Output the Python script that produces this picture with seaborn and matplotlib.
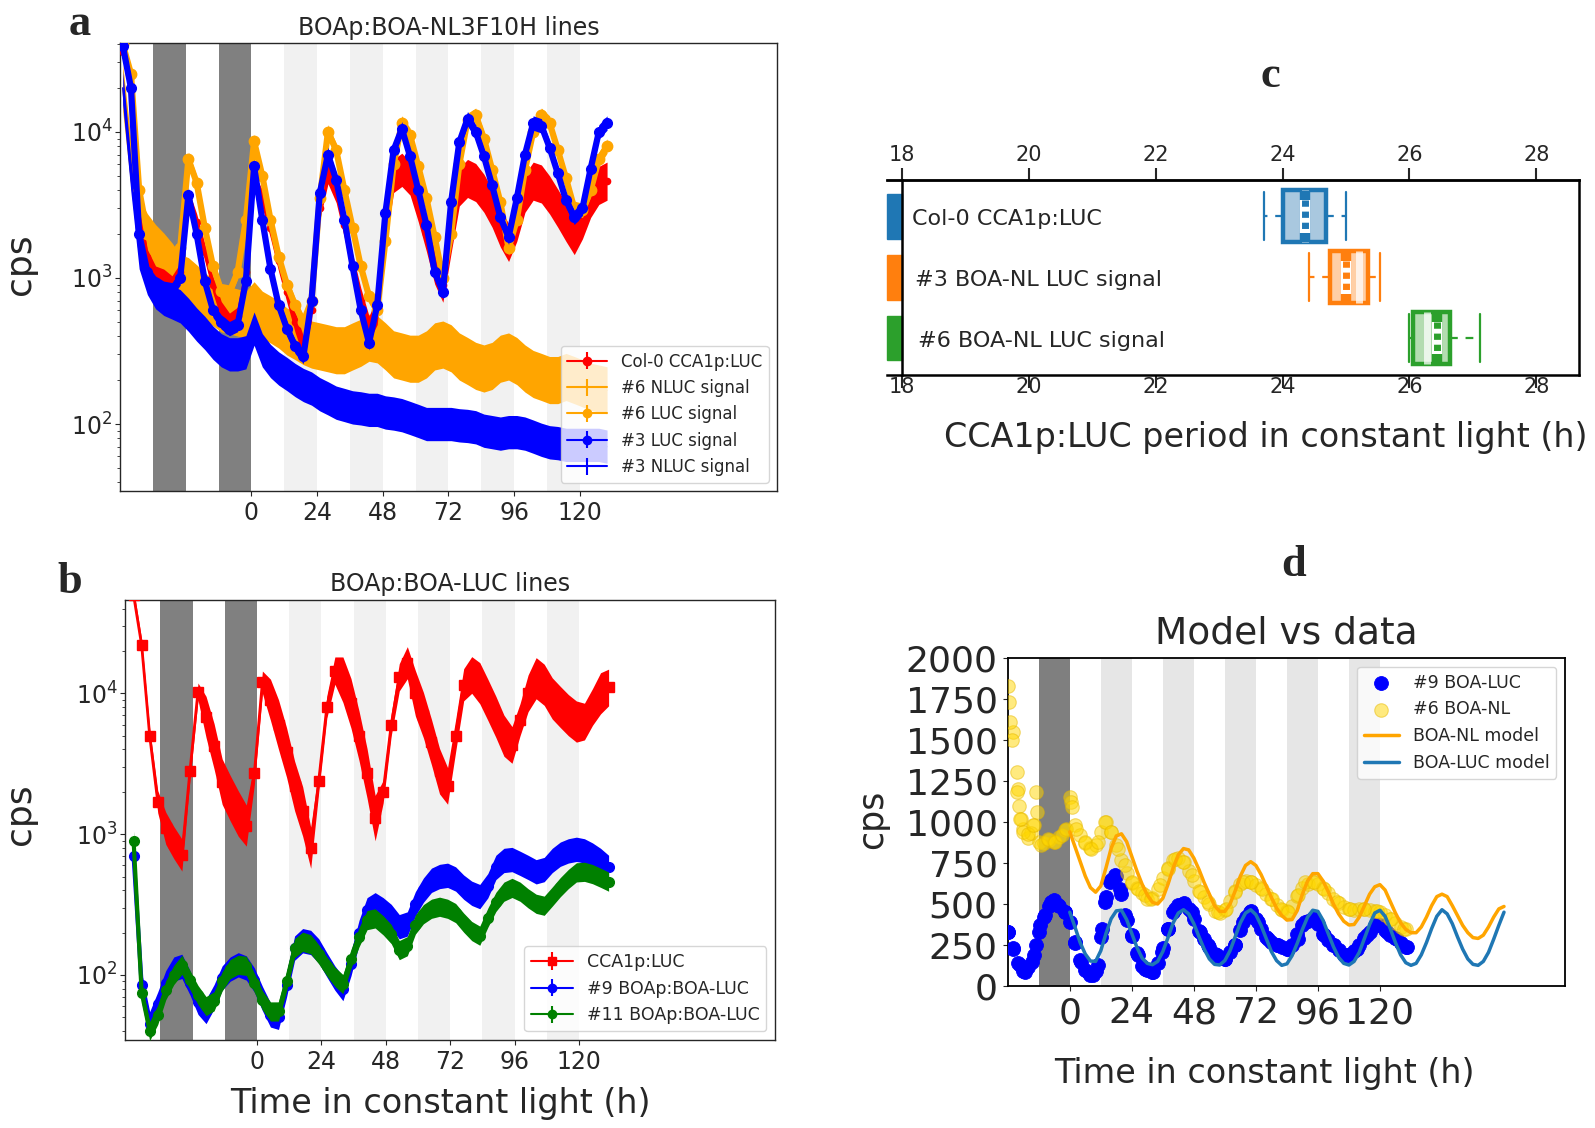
import numpy as np
import pandas as pd
import matplotlib
matplotlib.use("Agg")
import matplotlib.pyplot as plt
import seaborn as sns
from matplotlib.patches import Rectangle

# ======================= DATA =======================
# shading (hours): dark = night, light = subjective night in LL
dark_bands = [(-36, -24), (-12, 0)]
light_bands = [(12, 24), (36, 48), (60, 72), (84, 96), (108, 120)]
d_dark_bands = [(-12, 0)]
x_ticks = [0, 24, 48, 72, 96, 120]

# ---- panel a : BOAp:BOA-NL3F10H lines ----
t_a = [-47, -44, -41, -38, -35, -32, -29, -26, -23, -20,
       -17, -14, -11, -8, -5, -2, 1, 4, 7, 10,
       13, 16, 19, 22, 25, 28, 31, 34, 37, 40,
       43, 46, 49, 52, 55, 58, 61, 64, 67, 70,
       73, 76, 79, 82, 85, 88, 91, 94, 97, 100,
       103, 106, 109, 112, 115, 118, 121, 124, 127, 130]
a_col0 = [35000, 20000, 3000, 1400, 1050, 1000, 900, 1100, 3500, 2400,
          1500, 900, 600, 500, 550, 1100, 4500, 3500, 2200, 1300,
          800, 500, 340, 600, 3000, 5300, 4000, 2300, 1200, 700,
          450, 600, 2200, 5000, 5500, 4800, 3200, 2000, 1200, 900,
          2000, 4200, 4800, 4500, 3800, 3000, 2200, 1750, 2400, 3800,
          4600, 4400, 3700, 3000, 2400, 1950, 2500, 3500, 4300, 4600]
a_col0_err = [1.1, 1.1, 1.12, 1.12, 1.15, 1.15, 1.15, 1.15, 1.15, 1.15,
              1.15, 1.15, 1.15, 1.15, 1.15, 1.15, 1.15, 1.15, 1.18, 1.18,
              1.18, 1.18, 1.18, 1.18, 1.2, 1.2, 1.22, 1.22, 1.22, 1.22,
              1.22, 1.25, 1.28, 1.3, 1.3, 1.3, 1.32, 1.32, 1.32, 1.32,
              1.35, 1.35, 1.35, 1.35, 1.35, 1.35, 1.35, 1.35, 1.35, 1.35,
              1.35, 1.35, 1.35, 1.35, 1.35, 1.35, 1.35, 1.35, 1.35, 1.35]
a_nluc6 = [20000, 6000, 2400, 1900, 1600, 1400, 1200, 1000, 950, 850,
           750, 680, 620, 600, 580, 560, 650, 560, 520, 480,
           430, 400, 370, 350, 340, 330, 320, 320, 340, 360,
           390, 380, 340, 300, 290, 280, 280, 300, 340, 350,
           330, 290, 270, 250, 240, 250, 280, 290, 270, 240,
           220, 210, 200, 200, 210, 200, 190, 180, 175, 170]
a_luc6 = [40000, 25000, 4000, 2000, 1500, 1300, 1250, 1600, 6500, 4500,
          2200, 1200, 820, 800, 1100, 2500, 8600, 5000, 2500, 1400,
          900, 650, 500, 700, 3500, 10000, 7500, 4000, 2200, 1200,
          750, 600, 1800, 6000, 11500, 9500, 5800, 3500, 1900, 1000,
          2000, 6000, 12000, 13000, 9000, 5500, 3300, 1600, 2500, 5500,
          10000, 13000, 11500, 7500, 4800, 3000, 2900, 4000, 6500, 8000]
a_luc3 = [39000, 20000, 2000, 1100, 920, 850, 830, 1000, 3700, 2000,
          950, 600, 500, 450, 480, 950, 5800, 2500, 1150, 650,
          450, 340, 290, 700, 3800, 7000, 4700, 2500, 1200, 600,
          360, 650, 2800, 7500, 10500, 6800, 4000, 2300, 1100, 800,
          3300, 8500, 12300, 10000, 6800, 4300, 2600, 1900, 3500, 7000,
          11500, 11000, 7800, 5200, 3400, 2600, 3000, 5600, 10000, 11500]
a_nluc3 = [20000, 5000, 1500, 1000, 800, 720, 680, 640, 560, 480,
           420, 360, 320, 300, 300, 310, 450, 320, 270, 240,
           220, 200, 185, 175, 160, 150, 140, 135, 130, 128,
           125, 125, 120, 118, 115, 110, 105, 100, 100, 100,
           100, 98, 97, 95, 90, 88, 86, 88, 88, 86,
           82, 78, 75, 74, 72, 72, 72, 72, 72, 70]
a_err_luc = 1.12
a_err_nluc6 = 1.45
a_err_nluc3 = 1.3
a_labels = ["Col-0 CCA1p:LUC", "#6 NLUC signal", "#6 LUC signal",
            "#3 LUC signal", "#3 NLUC signal"]

# ---- panel b : BOAp:BOA-LUC lines ----
t_b = [-46, -43, -40, -37, -34, -31, -28, -25, -22, -19,
       -16, -13, -10, -7, -4, -1, 2, 5, 8, 11,
       14, 17, 20, 23, 26, 29, 32, 35, 38, 41,
       44, 47, 50, 53, 56, 59, 62, 65, 68, 71,
       74, 77, 80, 83, 86, 89, 92, 95, 98, 101,
       104, 107, 110, 113, 116, 119, 122, 125, 128, 131]
b_cca1 = [50000, 22000, 5000, 1700, 1100, 870, 710, 2800, 10300, 6800,
          4200, 2360, 1800, 1400, 1150, 2700, 12000, 9000, 6000, 3800,
          2200, 1450, 800, 2400, 8000, 14500, 12500, 8500, 5000, 2700,
          1300, 2000, 6000, 13000, 16500, 10000, 7000, 4500, 2800, 2200,
          5000, 11500, 13500, 11800, 9000, 6800, 5000, 4300, 6500, 10000,
          12800, 11500, 9200, 8000, 7000, 6300, 6300, 8000, 10000, 11000]
b_cca1_err = [1.1, 1.1, 1.12, 1.2, 1.3, 1.3, 1.3, 1.15, 1.15, 1.4,
              1.45, 1.45, 1.45, 1.45, 1.4, 1.2, 1.2, 1.4, 1.5, 1.5,
              1.5, 1.5, 1.4, 1.2, 1.2, 1.25, 1.45, 1.5, 1.5, 1.5,
              1.45, 1.2, 1.2, 1.25, 1.3, 1.45, 1.45, 1.45, 1.45, 1.35,
              1.3, 1.3, 1.35, 1.4, 1.4, 1.4, 1.4, 1.35, 1.3, 1.35,
              1.4, 1.4, 1.4, 1.4, 1.4, 1.4, 1.35, 1.35, 1.4, 1.35]
b_boa9 = [700, 85, 45, 62, 88, 110, 115, 88, 64, 55,
          70, 95, 110, 118, 112, 92, 68, 52, 50, 85,
          155, 175, 170, 148, 118, 95, 80, 120, 200, 290,
          315, 290, 260, 220, 230, 320, 400, 470, 500, 510,
          480, 420, 380, 360, 430, 580, 650, 660, 620, 580,
          540, 560, 650, 720, 760, 780, 760, 710, 650, 580]
b_boa11 = [900, 75, 40, 52, 78, 100, 118, 92, 72, 60,
           65, 90, 110, 118, 116, 88, 66, 55, 55, 90,
           155, 172, 165, 140, 115, 97, 86, 130, 185, 245,
           252, 225, 195, 150, 160, 228, 270, 295, 305, 295,
           275, 235, 205, 190, 255, 330, 390, 415, 390, 350,
           320, 310, 360, 420, 480, 535, 540, 520, 490, 460]
b_err_boa9 = 1.22
b_err_boa11 = 1.17
b_labels = ["CCA1p:LUC", "#9 BOAp:BOA-LUC", "#11 BOAp:BOA-LUC"]

# ---- panel c : period estimates ----
c_labels = ["Col-0 CCA1p:LUC", "#3 BOA-NL LUC signal", "#6 BOA-NL LUC signal"]
c_colors = ["#1f77b4", "#ff7f0e", "#2ca02c"]
c_faces = ["#a9c8df", "#ffcfa6", "#b3dcb0"]
c_whislo = [23.71, 24.42, 26.0]
c_q1 = [24.0, 24.75, 26.05]
c_med = [24.35, 25.2, 26.27]
c_q3 = [24.69, 25.35, 26.64]
c_whishi = [25.0, 25.53, 27.12]
c_mean = [24.35, 25.0, 26.43]
c_text_x = [18.15, 18.2, 18.24]
c_ticks = [18, 20, 22, 24, 26, 28]

# ---- panel d : model vs data ----
t_d = [-24, -22, -20, -18, -16, -14, -12, -10, -8, -6,
       -4, -2, 0, 2, 4, 6, 8, 10, 12, 14,
       16, 18, 20, 22, 24, 26, 28, 30, 32, 34,
       36, 38, 40, 42, 44, 46, 48, 50, 52, 54,
       56, 58, 60, 62, 64, 66, 68, 70, 72, 74,
       76, 78, 80, 82, 84, 86, 88, 90, 92, 94,
       96, 98, 100, 102, 104, 106, 108, 110, 112, 114,
       116, 118, 120, 122, 124, 126, 128, 130]
d_boa9 = [330, 230, 140, 90, 115, 190, 330, 420, 490, 525,
          490, 450, 390, 265, 160, 95, 65, 90, 300, 540,
          645, 670, 560, 400, 305, 200, 125, 95, 85, 140,
          230, 345, 450, 495, 505, 470, 410, 335, 285, 235,
          195, 170, 165, 205, 250, 340, 420, 455, 410, 350,
          300, 270, 250, 240, 225, 250, 320, 370, 395, 415,
          380, 315, 280, 250, 220, 190, 190, 215, 250, 290,
          330, 370, 370, 340, 310, 290, 265, 240]
t_d9_extra = [-23.9, -21.9, -19.4, -17.4, -14.8, -12.9, -11.6, -9.7, -7.1, -4.5,
              -1.9, 1.9, 4.5, 7.1, 9, 11, 12.3, 13.5, 15.5, 17.4,
              19.4, 21.3, 23.9, 26.5, 29, 32.3, 35.5, 38.1, 40.6, 43.9,
              47.1, 50.3, 53.5, 56.8, 60, 63.9, 67.1, 69.7, 72.9, 76.8,
              80.6, 84.5, 88.4, 91, 94.5, 98.3, 102.2, 107.4, 111.2, 115.1,
              119, 122.8, 126.7, 130.6]
d_boa9_extra = [329, 227, 126, 85, 146, 248, 370, 430, 512, 491,
                450, 268, 146, 85, 65, 126, 349, 512, 633, 674,
                593, 430, 309, 187, 106, 85, 207, 349, 471, 502,
                450, 329, 248, 187, 166, 248, 390, 450, 390, 288,
                248, 227, 288, 390, 410, 309, 248, 187, 227, 309,
                370, 329, 288, 238]
d_boa6 = [1830, 1550, 1200, 960, 900, 980, 880, 870, 890, 880,
          910, 950, 1150, 980, 920, 870, 840, 860, 940, 1000,
          940, 860, 770, 690, 630, 600, 565, 530, 535, 590,
          660, 720, 770, 780, 755, 700, 640, 580, 540, 500,
          460, 445, 465, 520, 580, 620, 640, 635, 615, 595,
          560, 530, 495, 465, 455, 490, 550, 600, 625, 635,
          620, 595, 565, 530, 505, 480, 470, 465, 470, 470,
          465, 460, 450, 430, 410, 385, 360, 345]
t_d6_extra = [-23.5, -23, -22.5, -13, -12.5, 0.5, 1, -19, -15,
              -20.6, -20.3, -19.7, -19.4, -18, -16.1, -14.2, -11, -8.4, -5.8,
              -3.2, -1.3, 2.6, 5.8, 8.4, 11, 13.5, 16.1, 18.7, 21.3,
              23.9, 26.5, 29, 31.6, 34.8, 38.1, 40.6, 43.9, 47.1, 50.3,
              53.5, 57.4, 60.6, 63.9, 67.1, 70.3, 74.2, 78.1, 81.9, 84.5,
              88.4, 91, 94.5, 98.3, 103.5, 108.6, 113.8, 119, 124.1, 129.3]
d_boa6_extra = [1730, 1610, 1500, 1180, 1060, 1120, 1090, 1020, 930,
                1304, 1182, 1100, 1019, 938, 928, 979, 857, 897, 877,
                918, 958, 958, 877, 837, 877, 999, 938, 837, 735,
                634, 593, 552, 532, 613, 715, 776, 755, 674, 573,
                512, 450, 471, 573, 634, 634, 593, 532, 471, 450,
                552, 634, 634, 593, 512, 471, 471, 455, 410, 349]
t_m = [0, 2, 4, 6, 8, 10, 12, 14, 16, 18,
       20, 22, 24, 26, 28, 30, 32, 34, 36, 38,
       40, 42, 44, 46, 48, 50, 52, 54, 56, 58,
       60, 62, 64, 66, 68, 70, 72, 74, 76, 78,
       80, 82, 84, 86, 88, 90, 92, 94, 96, 98,
       100, 102, 104, 106, 108, 110, 112, 114, 116, 118,
       120, 122, 124, 126, 128, 130, 132, 134, 136, 138,
       140, 142, 144, 146, 148, 150, 152, 154, 156, 158,
       160, 162, 164, 166, 168]
m_nl = [940, 850, 760, 670, 600, 572, 610, 720, 840, 915,
        928, 880, 790, 700, 620, 555, 510, 500, 535, 620,
        720, 800, 838, 830, 780, 710, 630, 560, 490, 455,
        455, 500, 580, 670, 735, 758, 735, 680, 610, 540,
        475, 430, 402, 405, 460, 560, 640, 685, 685, 640,
        575, 500, 440, 395, 372, 375, 420, 490, 560, 605,
        618, 585, 515, 445, 385, 345, 325, 325, 360, 420,
        490, 545, 560, 545, 490, 430, 370, 325, 295, 290,
        310, 360, 420, 470, 485]
m_luc = [450, 360, 265, 195, 152, 150, 215, 320, 410, 458,
         462, 405, 320, 235, 170, 138, 130, 150, 210, 295,
         385, 445, 465, 440, 380, 300, 225, 165, 132, 128,
         155, 215, 300, 385, 445, 465, 435, 370, 290, 210,
         155, 126, 135, 185, 260, 345, 420, 462, 455, 400,
         320, 240, 175, 138, 128, 150, 205, 290, 375, 445,
         462, 425, 350, 265, 190, 142, 126, 138, 190, 265,
         350, 425, 465, 440, 380, 300, 225, 165, 132, 126,
         150, 205, 285, 370, 450]

# ======================= STYLE / LAYOUT =======================
sns.set_style("ticks")
plt.rcParams['font.family'] = ['DejaVu Sans']
plt.rcParams['mathtext.fontset'] = 'dejavusans'
plt.rcParams['axes.linewidth'] = 1.0

W, H = 1595, 1128
fig = plt.figure(figsize=(W / 100, H / 100), dpi=100)


def rect(l, t, r, b):
    return [l / W, 1 - b / H, (r - l) / W, (b - t) / H]


ax_a = fig.add_axes(rect(120, 43, 777, 491))
ax_b = fig.add_axes(rect(125, 600, 775, 1040))
ax_c = fig.add_axes(rect(886.5, 180, 1579.3, 375))
ax_d = fig.add_axes(rect(1008, 658, 1565, 986))


def to_ax(ax, x, y):
    bb = ax.get_position()
    return ((x / W - bb.x0) / bb.width, ((1 - y / H) - bb.y0) / bb.height)


def series(ax, t, y, f, col, fmt, ms, lw, z):
    """error band (mean / f .. mean * f) plus the mean trace"""
    y = np.asarray(y, float)
    f = np.asarray(f, float) * np.ones_like(y)
    ax.fill_between(t, y / f, y * f, color=col, lw=0, zorder=z)
    ax.plot(t, y, fmt, color=col, ms=ms, lw=lw, zorder=z + 0.1)


def shade(ax, dark, light, dcol, lcol):
    for s, e in dark:
        ax.axvspan(s, e, color=dcol, lw=0, zorder=0)
    for s, e in light:
        ax.axvspan(s, e, color=lcol, lw=0, zorder=0)


def set_xlabel(ax, text, xc, yc, size):
    ax.set_xlabel(text, fontsize=size)
    ax.xaxis.set_label_coords(*to_ax(ax, xc, yc))
    ax.xaxis.label.set_va('center')


def set_ylabel(ax, text, xc, yc, size):
    ax.set_ylabel(text, fontsize=size)
    ax.yaxis.set_label_coords(*to_ax(ax, xc, yc))
    ax.yaxis.label.set_va('center')


def set_title(ax, text, yc, size):
    ax.set_title(text, fontsize=size, y=to_ax(ax, 0, yc)[1], va='center', pad=0)


def proxy(ax, fmt, col, label, ms=6):
    return ax.errorbar([np.nan], [np.nan], yerr=[[np.nan], [np.nan]], fmt=fmt,
                       color=col, ms=ms, lw=1.5, elinewidth=1.5, capsize=0,
                       label=label)


# ======================= PANEL A =======================
ax = ax_a
shade(ax, dark_bands, light_bands, '#808080', '#f1f1f1')
series(ax, t_a, a_col0, a_col0_err, 'red', '-o', 4.5, 2.0, 3)
series(ax, t_a, a_nluc6, a_err_nluc6, 'orange', '-', 0, 1.0, 2)
series(ax, t_a, a_luc6, a_err_luc, 'orange', '-o', 7.5, 4.5, 4)
series(ax, t_a, a_luc3, a_err_luc, 'blue', '-o', 7, 4.5, 5)
series(ax, t_a, a_nluc3, a_err_nluc3, 'blue', '-', 0, 1.0, 2.5)
ax.set_yscale('log')
ax.set_xlim(-48, 192.1)
ax.set_ylim(34.8, 40600)
ax.set_xticks(x_ticks)
ax.tick_params(axis='both', which='major', labelsize=17)
ax.tick_params(axis='y', pad=2)
hs = [proxy(ax, '-o', 'red', a_labels[0]), proxy(ax, '-', 'orange', a_labels[1]),
      proxy(ax, '-o', 'orange', a_labels[2]), proxy(ax, '-o', 'blue', a_labels[3]),
      proxy(ax, '-', 'blue', a_labels[4])]
ax.legend(handles=hs, loc='lower right', fontsize=12, handlelength=2.4,
          framealpha=0.8)
set_title(ax, "BOAp:BOA-NL3F10H lines", 27.5, 17)
set_ylabel(ax, "cps", 20, 264, 26)

# ======================= PANEL B =======================
ax = ax_b
shade(ax, dark_bands, light_bands, '#808080', '#f1f1f1')
series(ax, t_b, b_cca1, b_cca1_err, 'red', '-s', 6.5, 2.0, 3)
series(ax, t_b, b_boa9, b_err_boa9, 'blue', '-o', 7, 3.0, 4)
series(ax, t_b, b_boa11, b_err_boa11, 'green', '-o', 7, 3.0, 5)
ax.set_yscale('log')
ax.set_xlim(-49.2, 193)
ax.set_ylim(34.5, 46000)
ax.set_xticks(x_ticks)
ax.tick_params(axis='both', which='major', labelsize=17)
ax.tick_params(axis='y', pad=2)
hs = [proxy(ax, '-s', 'red', b_labels[0]), proxy(ax, '-o', 'blue', b_labels[1]),
      proxy(ax, '-o', 'green', b_labels[2])]
ax.legend(handles=hs, loc='lower right', fontsize=12.5, handlelength=2.4,
          framealpha=0.8)
set_title(ax, "BOAp:BOA-LUC lines", 584, 17)
set_ylabel(ax, "cps", 20, 814, 26)
set_xlabel(ax, "Time in constant light (h)", 440, 1104, 24)

# ======================= PANEL C =======================
ax = ax_c
stats = []
for i in range(3):
    stats.append(dict(label=c_labels[i], whislo=c_whislo[i], q1=c_q1[i],
                      med=c_med[i], q3=c_q3[i], whishi=c_whishi[i],
                      mean=c_mean[i], fliers=[]))
bkw = dict(positions=[0, 1, 2], widths=0.857, patch_artist=True,
           showmeans=False, manage_ticks=False, capwidths=0.79)
try:
    bp = ax.bxp(stats, orientation='horizontal', **bkw)
except TypeError:
    bp = ax.bxp(stats, vert=False, **bkw)
for i, col in enumerate(c_colors):
    bp['boxes'][i].set(facecolor=c_faces[i], edgecolor=col, linewidth=3.2, zorder=3)
    for w in bp['whiskers'][2 * i:2 * i + 2]:
        w.set(color=col, linewidth=1.6, linestyle=(0, (3.5, 3.5)), zorder=3)
    for cp in bp['caps'][2 * i:2 * i + 2]:
        cp.set(color=col, linewidth=1.6, zorder=3)
    bp['medians'][i].set(color='white', alpha=0.75, linewidth=5, zorder=4)
    # mean: dashed column on white with solid ends
    ax.vlines(c_mean[i], i - 0.42, i + 0.42, color=col, lw=7.5, zorder=5)
    ax.vlines(c_mean[i], i - 0.27, i + 0.27, color='white', lw=7.5, zorder=6)
    ax.vlines(c_mean[i], i - 0.27, i + 0.27, color=col, lw=5,
              linestyles=[(0, (0.9, 0.7))], zorder=7)
    ax.add_patch(Rectangle((17.75, i - 0.3675), 0.25, 0.735, color=col,
                           clip_on=False, zorder=2))
    ax.text(c_text_x[i], i + 0.05, c_labels[i], va='center', ha='left',
            fontsize=16, zorder=8)
ax.set_xlim(17.75, 28.68)
ax.set_ylim(2.607, -0.595)
ax.set_yticks([])
for s in ['top', 'bottom', 'right', 'left']:
    ax.spines[s].set_linewidth(1.8)
    ax.spines[s].set_color('black')
ax.spines['left'].set_position(('data', 18))
ax.set_xticks(c_ticks)
ax.tick_params(axis='x', direction='out', length=9, width=1.5, pad=-7.5,
               labelsize=15)
sec = ax.secondary_xaxis('top')
sec.set_xticks(c_ticks)
sec.tick_params(axis='x', direction='out', length=9, width=1.5, pad=2,
                labelsize=15)
sec.spines['top'].set_linewidth(1.8)
set_xlabel(ax, "CCA1p:LUC period in constant light (h)", 1266, 437, 24)

# ======================= PANEL D =======================
ax = ax_d
shade(ax, d_dark_bands, light_bands, '#7f7f7f', '#e6e6e6')
df_luc = pd.DataFrame({'t': t_d + t_d9_extra, 'cps': d_boa9 + d_boa9_extra})
df_nl = pd.DataFrame({'t': t_d + t_d6_extra, 'cps': d_boa6 + d_boa6_extra})
sns.scatterplot(data=df_luc, x='t', y='cps', ax=ax, color='blue', s=100,
                edgecolor='blue', linewidth=0.6, label='#9 BOA-LUC', zorder=3)
sns.scatterplot(data=df_nl, x='t', y='cps', ax=ax, color='gold', alpha=0.5, s=95,
                edgecolor='#e6b800', linewidth=0.8, label='#6 BOA-NL', zorder=4)
sns.lineplot(x=t_m, y=m_nl, ax=ax, color='orange', lw=2.5, label='BOA-NL model',
             zorder=5, sort=False)
sns.lineplot(x=t_m, y=m_luc, ax=ax, color='#1f77b4', lw=2.5, label='BOA-LUC model',
             zorder=6, sort=False)
ax.set_xlim(-23.9, 191.6)
ax.set_ylim(0, 2000)
ax.set_xticks(x_ticks)
ax.set_yticks([0, 250, 500, 750, 1000, 1250, 1500, 1750, 2000])
ax.tick_params(axis='both', labelsize=26, pad=4)
for s in ['top', 'bottom', 'right', 'left']:
    ax.spines[s].set_linewidth(1.3)
    ax.spines[s].set_color('black')
ax.legend(loc='upper right', fontsize=12.5, framealpha=0.8)
set_title(ax, "Model vs data", 634, 27)
set_xlabel(ax, "Time in constant light (h)", 1264.5, 1073, 24)
set_ylabel(ax, "cps", 872, 819, 25)

# ======================= PANEL LETTERS =======================
for letter, x, y in [('a', 80, 35), ('b', 69.5, 592.6), ('c', 1270, 87.3),
                     ('d', 1294, 575.8)]:
    fig.text(x / W, 1 - y / H, letter, fontsize=32, fontweight='bold',
             family='Liberation Serif', ha='center', va='baseline')

fig.savefig("out.png", dpi=100)
